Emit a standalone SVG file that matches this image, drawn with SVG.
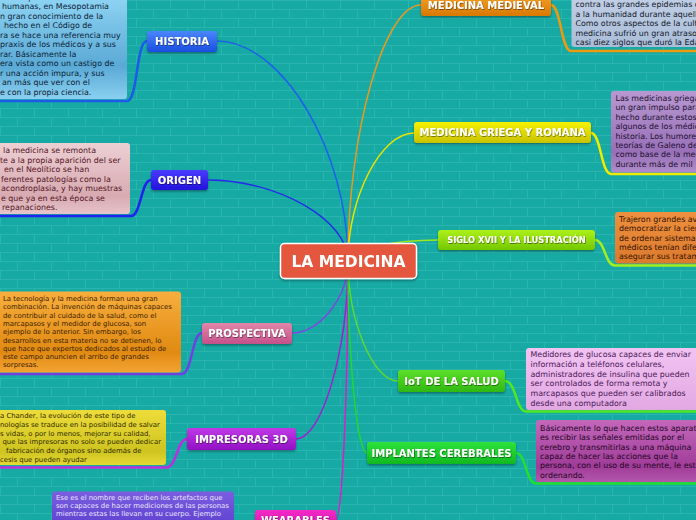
<svg xmlns="http://www.w3.org/2000/svg" width="696" height="520" viewBox="0 0 696 520">
<defs>
<pattern id="brick" width="34" height="18" patternUnits="userSpaceOnUse">
<rect width="34" height="18" fill="#17a9a3"/>
<path d="M0,0.5H34M0,9.5H34M0.5,0V9M17.5,9V18" stroke="#29b4ae" stroke-width="1" fill="none"/>
</pattern>
<filter id="sh" x="-10%" y="-20%" width="120%" height="150%"><feDropShadow dx="0" dy="1.5" stdDeviation="1" flood-color="#000" flood-opacity="0.35"/></filter>
<filter id="tsh" x="-5%" y="-20%" width="110%" height="150%"><feDropShadow dx="0.6" dy="0.8" stdDeviation="0.4" flood-color="#000" flood-opacity="0.55"/></filter>
<linearGradient id="gHist" x1="0" y1="0" x2="0" y2="1"><stop offset="0" stop-color="#4a86ff"/><stop offset="1" stop-color="#1a4de0"/></linearGradient>
<linearGradient id="gOrig" x1="0" y1="0" x2="0" y2="1"><stop offset="0" stop-color="#4a3cff"/><stop offset="1" stop-color="#2212dc"/></linearGradient>
<linearGradient id="gPros" x1="0" y1="0" x2="0" y2="1"><stop offset="0" stop-color="#e486aa"/><stop offset="1" stop-color="#c4508a"/></linearGradient>
<linearGradient id="gImp" x1="0" y1="0" x2="0" y2="1"><stop offset="0" stop-color="#c03ae6"/><stop offset="1" stop-color="#9210c4"/></linearGradient>
<linearGradient id="gWear" x1="0" y1="0" x2="0" y2="1"><stop offset="0" stop-color="#f42ac8"/><stop offset="1" stop-color="#d010a8"/></linearGradient>
<linearGradient id="gMed" x1="0" y1="0" x2="0" y2="1"><stop offset="0" stop-color="#f4a028"/><stop offset="1" stop-color="#d87800"/></linearGradient>
<linearGradient id="gGri" x1="0" y1="0" x2="0" y2="1"><stop offset="0" stop-color="#f6f200"/><stop offset="1" stop-color="#c8c200"/></linearGradient>
<linearGradient id="gSig" x1="0" y1="0" x2="0" y2="1"><stop offset="0" stop-color="#acf018"/><stop offset="1" stop-color="#74c800"/></linearGradient>
<linearGradient id="gIot" x1="0" y1="0" x2="0" y2="1"><stop offset="0" stop-color="#5ce02a"/><stop offset="1" stop-color="#30b810"/></linearGradient>
<linearGradient id="gImpl" x1="0" y1="0" x2="0" y2="1"><stop offset="0" stop-color="#2ee23c"/><stop offset="1" stop-color="#10b820"/></linearGradient>
<linearGradient id="bHist" x1="0" y1="0" x2="0" y2="1"><stop offset="0" stop-color="#94d8f6"/><stop offset="0.7" stop-color="#5aa9d6"/><stop offset="1" stop-color="#8ad0f0"/></linearGradient>
<linearGradient id="bOrig" x1="0" y1="0" x2="0" y2="1"><stop offset="0" stop-color="#ecd0d4"/><stop offset="0.75" stop-color="#d8aab2"/><stop offset="1" stop-color="#e6c4ca"/></linearGradient>
<linearGradient id="bPros" x1="0" y1="0" x2="0" y2="1"><stop offset="0" stop-color="#f8ae3e"/><stop offset="0.75" stop-color="#e08a12"/><stop offset="1" stop-color="#f4a434"/></linearGradient>
<linearGradient id="bImp" x1="0" y1="0" x2="0" y2="1"><stop offset="0" stop-color="#eedc3a"/><stop offset="0.75" stop-color="#cfc420"/><stop offset="1" stop-color="#e6d834"/></linearGradient>
<linearGradient id="bWear" x1="0" y1="0" x2="0" y2="1"><stop offset="0" stop-color="#7a5ee0"/><stop offset="1" stop-color="#5a3ccc"/></linearGradient>
<linearGradient id="bMed" x1="0" y1="0" x2="0" y2="1"><stop offset="0" stop-color="#c4d2e8"/><stop offset="1" stop-color="#aabcd8"/></linearGradient>
<linearGradient id="bGri" x1="0" y1="0" x2="0" y2="1"><stop offset="0" stop-color="#b898d0"/><stop offset="0.75" stop-color="#9870b8"/><stop offset="1" stop-color="#ae8cc8"/></linearGradient>
<linearGradient id="bSig" x1="0" y1="0" x2="0" y2="1"><stop offset="0" stop-color="#ee9040"/><stop offset="1" stop-color="#dc7a2c"/></linearGradient>
<linearGradient id="bIot" x1="0" y1="0" x2="0" y2="1"><stop offset="0" stop-color="#f2c4f2"/><stop offset="1" stop-color="#e2a8e2"/></linearGradient>
<linearGradient id="bImpl" x1="0" y1="0" x2="0" y2="1"><stop offset="0" stop-color="#c468bc"/><stop offset="0.75" stop-color="#a03c98"/><stop offset="1" stop-color="#b456ac"/></linearGradient>
</defs>
<style>
.lbl{font-family:"DejaVu Sans",Verdana,sans-serif;font-weight:bold;fill:#fff;text-anchor:middle;font-size:10px}
.t8{font-family:"DejaVu Sans",Verdana,sans-serif;font-size:7.9px}
.t7{font-family:"DejaVu Sans",Verdana,sans-serif;font-size:6.9px}
.c{fill:none;stroke-width:1.5}
.u{fill:none;stroke-width:2.5}
</style>
<rect width="696" height="520" fill="url(#brick)"/>
<g id="connectors">
<path class="c" stroke="#1e62e8" d="M217,41 C282,41 348,151 348,261"/>
<path class="c" stroke="#2430e6" d="M208,180 C278,180 348,220 348,261"/>
<path class="c" stroke="#7a48e0" d="M292,333 C320,333 348,297 348,261"/>
<path class="c" stroke="#a020d0" d="M296,439 C322,439 348,350 348,261"/>
<path class="c" stroke="#d422c8" d="M336,520 C342,520 348,390 348,261"/>
<path class="c" stroke="#e89a20" d="M421,5 C384,5 348,133 348,261"/>
<path class="c" stroke="#e8e400" d="M414,133 C381,133 348,197 348,261"/>
<path class="c" stroke="#9ee820" d="M438,240 C393,240 348,250 348,261"/>
<path class="c" stroke="#5ed830" d="M398,381 C373,381 348,321 348,261"/>
<path class="c" stroke="#22d830" d="M367,453 C357,453 348,357 348,261"/>
<path class="u" stroke="#1e5ae8" d="M147,41 C136,41 138,101 127,101 L0,101"/>
<path class="u" stroke="#2222f0" d="M151,180 C141,180 141,216 131,216 L0,216"/>
<path class="u" stroke="#7040e4" d="M202,333 C192,333 192,374 182,374 L0,374"/>
<path class="u" stroke="#b830e0" d="M187,439 C177,439 177,467.5 166,467.5 L0,467.5"/>
<path class="u" stroke="#ee9a10" d="M551,5 C561,5 561,51 571,51 L696,51"/>
<path class="u" stroke="#f0ec00" d="M591,133 C601,133 601,174 611,174 L696,174"/>
<path class="u" stroke="#a2ee20" d="M595,240 C605,240 605,265.5 615,265.5 L696,265.5"/>
<path class="u" stroke="#50e820" d="M505,381 C516,381 516,411.5 526,411.5 L696,411.5"/>
<path class="u" stroke="#22e030" d="M516,453 C526,453 526,483.5 536,483.5 L696,483.5"/>
</g>
<g id="historia-text">
<rect x="-10" y="-10" width="137" height="109" rx="3" fill="url(#bHist)"/>
<g class="t8" fill="#0c2236">
<text x="0" y="0">tes las primeras</text>
<text x="2" y="9">  humanas, en Mesopotamia</text>
<text x="0" y="18.6">n gran conocimiento de la</text>
<text x="4" y="28.1">hecho en el Código de</text>
<text x="0" y="37.7">ra se hace una referencia muy</text>
<text x="0" y="47.2">praxis de los médicos y a sus</text>
<text x="0" y="56.8">rar. Básicamente la</text>
<text x="0" y="66.3">era vista como un castigo de</text>
<text x="0" y="75.9">r una acción impura, y sus</text>
<text x="2" y="85.4">an más que ver con el</text>
<text x="0" y="95">e con la propia ciencia.</text>
</g>
</g>
<g id="origen-text">
<rect x="-10" y="143" width="140" height="71" rx="3" fill="url(#bOrig)"/>
<g class="t8" fill="#541424">
<text x="3" y="153.3">la medicina se remonta</text>
<text x="0" y="162.8">te a la propia aparición del ser</text>
<text x="4" y="172.2">en el Neolítico se han</text>
<text x="1" y="181.7">ferentes patologías como la</text>
<text x="1" y="191.1">acondroplasia, y hay muestras</text>
<text x="1" y="200.6">e que ya en esta época se</text>
<text x="2" y="210">repanaciones.</text>
</g>
</g>
<g id="prospectiva-text">
<rect x="-10" y="291.5" width="191" height="81" rx="3" fill="url(#bPros)"/>
<g class="t7" fill="#3a2000">
<text x="3" y="301">La tecnología y la medicina forman una gran</text>
<text x="3" y="309.3">combinación. La invención de máquinas capaces</text>
<text x="3" y="317.6">de contribuir al cuidado de la salud, como el</text>
<text x="3" y="325.9">marcapasos y el medidor de glucosa, son</text>
<text x="3" y="334.2">ejemplo de lo anterior. Sin embargo, los</text>
<text x="3" y="342.5">desarrollos en esta materia no se detienen, lo</text>
<text x="3" y="350.8">que hace que expertos dedicados al estudio de</text>
<text x="3" y="359.1">este campo anuncien el arribo de grandes</text>
<text x="3" y="367.4">sorpresas.</text>
</g>
</g>
<g id="impresoras-text">
<rect x="-10" y="410" width="176" height="55" rx="3" fill="url(#bImp)"/>
<g class="t7" fill="#2e2a00">
<text x="0" y="418.3">a Chander, la evolución de este tipo de</text>
<text x="0" y="427">nologías se traduce en la posibilidad de salvar</text>
<text x="0" y="435.7">s vidas, o por lo menos, mejorar su calidad,</text>
<text x="2.5" y="444.3">que las impresoras no solo se pueden dedicar</text>
<text x="6" y="453">fabricación de órganos sino además de</text>
<text x="0" y="461.7">cesis que pueden ayudar</text>
</g>
</g>
<g id="wearables-text">
<rect x="52" y="491.5" width="182" height="40" rx="3" fill="url(#bWear)"/>
<g class="t7" fill="#ece6ff">
<text x="56" y="500">Ese es el nombre que reciben los artefactos que</text>
<text x="56" y="508">son capaces de hacer mediciones de las personas</text>
<text x="56" y="516">mientras estas las llevan en su cuerpo. Ejemplo</text>
</g>
</g>
<g id="medieval-text">
<rect x="571.5" y="-10" width="140" height="57" rx="3" fill="url(#bMed)"/>
<g class="t8" fill="#101828">
<text x="575.5" y="7.3">contra las grandes epidemias que</text>
<text x="575.5" y="16.7">a la humanidad durante aquella</text>
<text x="575.5" y="26.1">Como otros aspectos de la cultura</text>
<text x="575.5" y="35.5">medicina sufrió un gran atraso</text>
<text x="575.5" y="45">casi diez siglos que duró la Edad</text>
</g>
</g>
<g id="griega-text">
<rect x="611" y="91" width="100" height="81.5" rx="3" fill="url(#bGri)"/>
<g class="t8" fill="#201030">
<text x="615.5" y="101">Las medicinas griegas</text>
<text x="615.5" y="110.4">un gran impulso para</text>
<text x="615.5" y="119.8">hecho durante estos</text>
<text x="615.5" y="129.2">algunos de los médicos</text>
<text x="615.5" y="138.5">historia. Los humores</text>
<text x="615.5" y="147.9">teorías de Galeno de</text>
<text x="615.5" y="157.3">como base de la medicina</text>
<text x="615.5" y="166.7">durante más de mil</text>
</g>
</g>
<g id="siglo-text">
<rect x="615" y="212" width="100" height="51.5" rx="3" fill="url(#bSig)"/>
<g class="t8" fill="#341200">
<text x="619" y="221.7">Trajeron grandes avances</text>
<text x="619" y="231.1">democratizar la ciencia</text>
<text x="619" y="240.5">de ordenar sistemas</text>
<text x="619" y="249.9">médicos tenían diferentes</text>
<text x="619" y="259.3">asegurar sus tratamientos</text>
</g>
</g>
<g id="iot-text">
<rect x="526" y="348" width="180" height="62" rx="3" fill="url(#bIot)"/>
<g class="t8" fill="#4a1858">
<text x="530.5" y="357.3">Medidores de glucosa capaces de enviar</text>
<text x="530.5" y="367">información a teléfonos celulares,</text>
<text x="530.5" y="376.7">administradores de insulina que pueden</text>
<text x="530.5" y="386.3">ser controlados de forma remota y</text>
<text x="530.5" y="396">marcapasos que pueden ser calibrados</text>
<text x="530.5" y="405.7">desde una computadora</text>
</g>
</g>
<g id="implantes-text">
<rect x="536" y="420" width="170" height="62" rx="3" fill="url(#bImpl)"/>
<g class="t8" fill="#240624">
<text x="540" y="430.7">Básicamente lo que hacen estos aparatos</text>
<text x="540" y="440.1">es recibir las señales emitidas por el</text>
<text x="540" y="449.5">cerebro y transmitirlas a una máquina</text>
<text x="540" y="458.9">capaz de hacer las acciones que la</text>
<text x="540" y="468.3">persona, con el uso de su mente, le esté</text>
<text x="540" y="477.7">ordenando.</text>
</g>
</g>
<g id="historia" filter="url(#sh)"><rect x="147" y="31" width="70" height="21" rx="3" fill="url(#gHist)"/><text class="lbl" x="182" y="45.3" filter="url(#tsh)">HISTORIA</text></g>
<g id="origen" filter="url(#sh)"><rect x="151" y="170" width="57" height="20" rx="3" fill="url(#gOrig)"/><text class="lbl" x="179.5" y="183.8" filter="url(#tsh)">ORIGEN</text></g>
<g id="prospectiva" filter="url(#sh)"><rect x="202" y="323" width="90" height="21" rx="3" fill="url(#gPros)"/><text class="lbl" x="247" y="337.3" filter="url(#tsh)">PROSPECTIVA</text></g>
<g id="impresoras" filter="url(#sh)"><rect x="187" y="428" width="109" height="22" rx="3" fill="url(#gImp)"/><text class="lbl" x="241.5" y="442.8" filter="url(#tsh)">IMPRESORAS 3D</text></g>
<g id="wearables" filter="url(#sh)"><rect x="255" y="510" width="81" height="21" rx="3" fill="url(#gWear)"/><text class="lbl" x="295.5" y="524" filter="url(#tsh)">WEARABLES</text></g>
<g id="medieval" filter="url(#sh)"><rect x="421" y="-5" width="130" height="21" rx="3" fill="url(#gMed)"/><text class="lbl" x="486" y="9.3" filter="url(#tsh)">MEDICINA MEDIEVAL</text></g>
<g id="griega" filter="url(#sh)"><rect x="414" y="122" width="177" height="21" rx="3" fill="url(#gGri)"/><text class="lbl" x="502.5" y="136.3" filter="url(#tsh)">MEDICINA GRIEGA Y ROMANA</text></g>
<g id="siglo" filter="url(#sh)"><rect x="438" y="230" width="157" height="20" rx="3" fill="url(#gSig)"/><text class="lbl" x="516.5" y="243" style="font-size:8.3px" filter="url(#tsh)">SIGLO XVII Y LA ILUSTRACIÓN</text></g>
<g id="iot" filter="url(#sh)"><rect x="398" y="370" width="107" height="22" rx="3" fill="url(#gIot)"/><text class="lbl" x="451.5" y="384.8" filter="url(#tsh)">IoT DE LA SALUD</text></g>
<g id="implantes" filter="url(#sh)"><rect x="367" y="442" width="149" height="22" rx="3" fill="url(#gImpl)"/><text class="lbl" x="441.5" y="456.8" filter="url(#tsh)">IMPLANTES CEREBRALES</text></g>
<g id="la-medicina" filter="url(#sh)"><rect x="280.5" y="243.5" width="136" height="35" rx="4" fill="#e4573e" stroke="#fff" stroke-width="1.5"/><text class="lbl" x="348.5" y="266.5" style="font-size:15.5px">LA MEDICINA</text></g>
</svg>
